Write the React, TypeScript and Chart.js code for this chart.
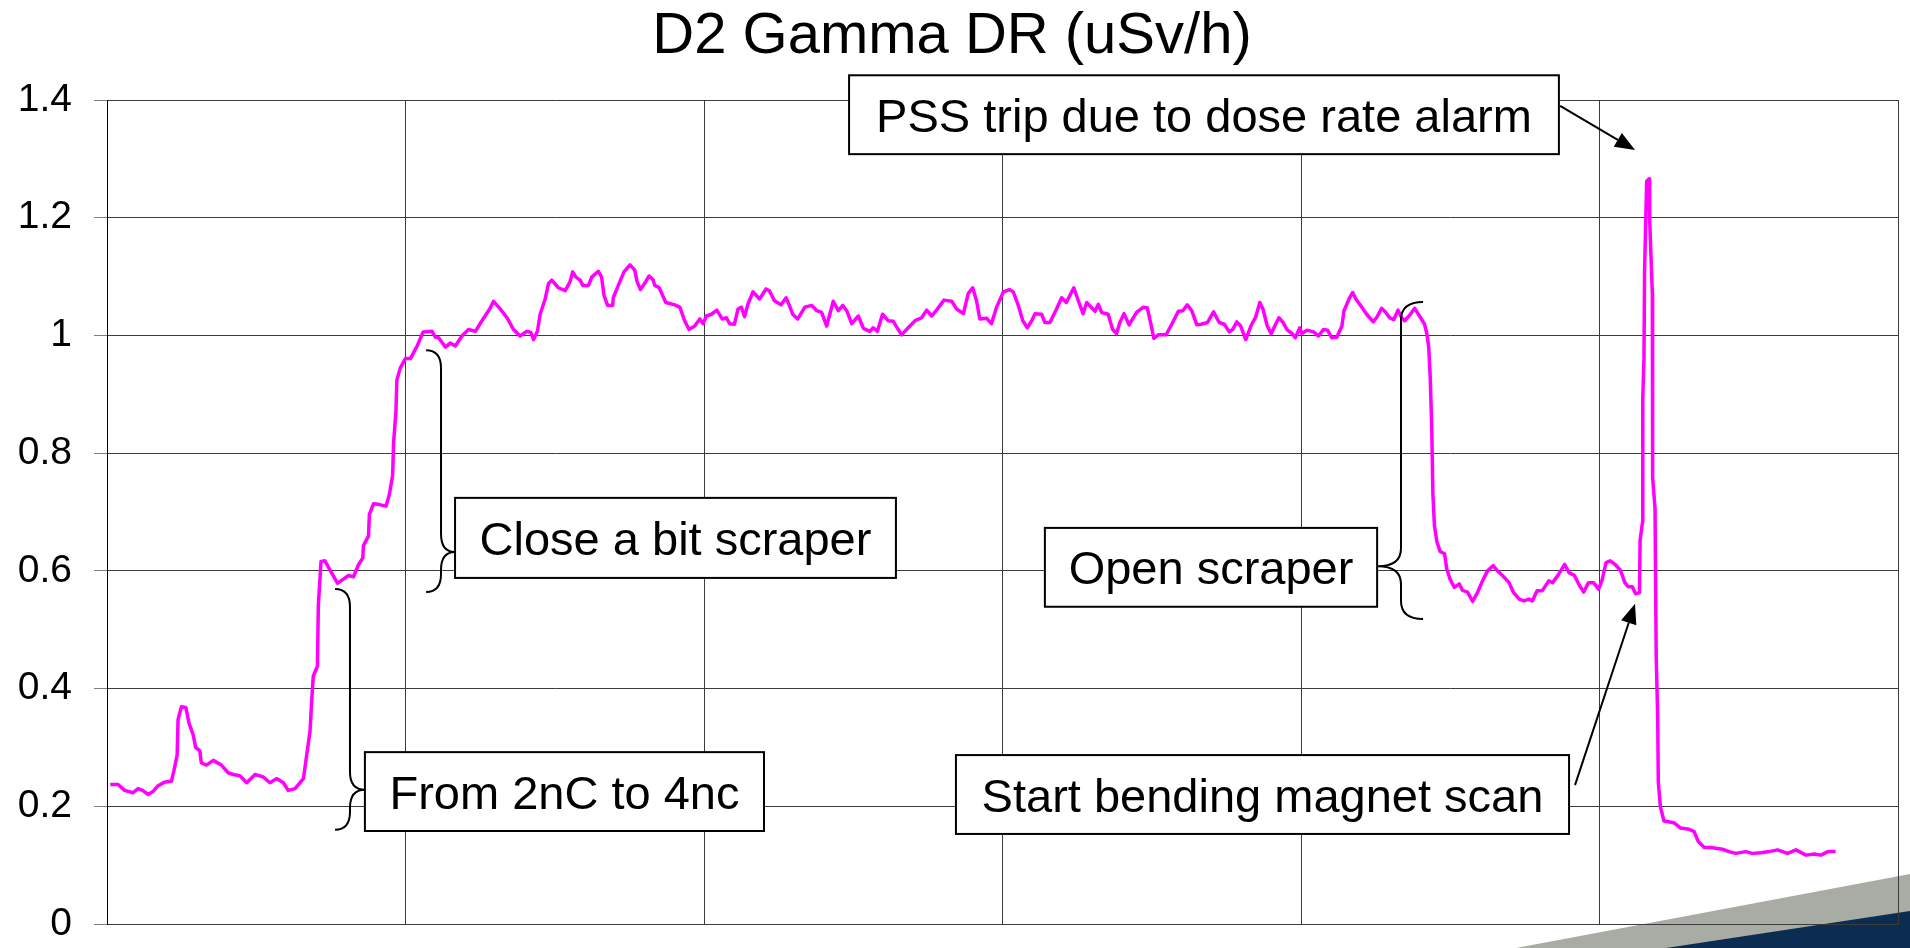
import { useEffect, useRef } from 'react';
import { Chart, registerables } from 'chart.js';

Chart.register(...registerables);

// ---------- data ----------
const chartTitle = 'D2 Gamma DR (uSv/h)';
const yTicks = [0, 0.2, 0.4, 0.6, 0.8, 1, 1.2, 1.4];
const yTickLabels = ['0', '0.2', '0.4', '0.6', '0.8', '1', '1.2', '1.4'];
const xGrid = [0, 1, 2, 3, 4, 5, 6];

// [time (grid units), dose rate uSv/h]
const baselineAndRamp: [number, number][] = [
  [0.011, 0.237], [0.037, 0.237], [0.059, 0.227], [0.087, 0.223], [0.104, 0.230], [0.119, 0.227], [0.138, 0.220], [0.154, 0.225], [0.171, 0.235], [0.193, 0.241],
  [0.216, 0.243], [0.224, 0.260], [0.235, 0.287], [0.238, 0.347], [0.249, 0.369], [0.264, 0.368], [0.275, 0.341], [0.289, 0.321], [0.297, 0.300], [0.311, 0.294],
  [0.316, 0.274], [0.333, 0.270], [0.356, 0.278], [0.383, 0.270], [0.406, 0.257], [0.423, 0.254], [0.445, 0.252], [0.468, 0.240], [0.496, 0.254], [0.523, 0.250],
  [0.546, 0.240], [0.568, 0.247], [0.591, 0.240], [0.607, 0.227], [0.630, 0.230], [0.658, 0.247], [0.669, 0.287], [0.680, 0.327], [0.686, 0.381], [0.691, 0.421],
  [0.705, 0.438], [0.708, 0.542], [0.717, 0.616], [0.730, 0.617], [0.753, 0.596], [0.772, 0.579], [0.792, 0.586], [0.808, 0.592], [0.826, 0.590], [0.842, 0.610],
  [0.857, 0.622], [0.859, 0.643], [0.876, 0.659], [0.879, 0.696], [0.893, 0.714], [0.909, 0.713], [0.935, 0.710], [0.946, 0.730], [0.957, 0.763], [0.960, 0.817],
  [0.968, 0.871], [0.971, 0.924], [0.982, 0.944],
];

const plateauA: [number, number][] = [
  [1.000, 0.961], [1.017, 0.961], [1.039, 0.982], [1.059, 1.006], [1.089, 1.007], [1.100, 0.997], [1.111, 0.996], [1.134, 0.980], [1.150, 0.987], [1.167, 0.982],
  [1.189, 0.999], [1.211, 1.010], [1.234, 1.007], [1.256, 1.025], [1.282, 1.045], [1.295, 1.058], [1.317, 1.045], [1.340, 1.030], [1.362, 1.010], [1.384, 0.999],
  [1.407, 1.007], [1.420, 1.005], [1.429, 0.993], [1.442, 1.007], [1.451, 1.036], [1.468, 1.062], [1.479, 1.088], [1.490, 1.094], [1.512, 1.081], [1.535, 1.076],
  [1.551, 1.091], [1.560, 1.108], [1.571, 1.099], [1.585, 1.094], [1.594, 1.085], [1.613, 1.085], [1.624, 1.099], [1.646, 1.109], [1.657, 1.099], [1.665, 1.068],
  [1.677, 1.051], [1.694, 1.051], [1.696, 1.064], [1.713, 1.085], [1.732, 1.108], [1.752, 1.120], [1.768, 1.111], [1.776, 1.091], [1.787, 1.078], [1.802, 1.089],
  [1.816, 1.101], [1.830, 1.094], [1.835, 1.085], [1.850, 1.081], [1.872, 1.056], [1.902, 1.052], [1.919, 1.048], [1.935, 1.025], [1.950, 1.010], [1.969, 1.016],
  [1.986, 1.028], [1.997, 1.020], [2.008, 1.033], [2.025, 1.036], [2.043, 1.043], [2.061, 1.028], [2.075, 1.030], [2.086, 1.020], [2.102, 1.019], [2.114, 1.045],
  [2.125, 1.048], [2.136, 1.032], [2.147, 1.053], [2.164, 1.074], [2.186, 1.062], [2.208, 1.079], [2.219, 1.076], [2.236, 1.059], [2.258, 1.052], [2.275, 1.064],
  [2.286, 1.051], [2.297, 1.036], [2.314, 1.028],
];

const plateauB: [number, number][] = [
  [2.338, 1.048], [2.361, 1.051], [2.378, 1.042], [2.394, 1.039], [2.411, 1.016], [2.433, 1.058], [2.450, 1.042], [2.465, 1.051], [2.478, 1.042], [2.495, 1.020],
  [2.517, 1.033], [2.534, 1.012], [2.556, 1.007], [2.567, 1.013], [2.581, 1.007], [2.598, 1.036], [2.617, 1.025], [2.634, 1.024], [2.651, 1.010], [2.662, 1.001],
  [2.684, 1.013], [2.707, 1.025], [2.729, 1.030], [2.746, 1.043], [2.763, 1.033], [2.779, 1.043], [2.804, 1.060], [2.830, 1.058], [2.846, 1.045], [2.869, 1.037],
  [2.885, 1.071], [2.900, 1.081], [2.913, 1.059], [2.924, 1.028], [2.947, 1.029], [2.963, 1.020], [2.980, 1.048], [3.003, 1.074], [3.023, 1.078], [3.036, 1.074],
  [3.053, 1.051], [3.068, 1.025], [3.083, 1.013], [3.098, 1.025], [3.109, 1.037], [3.131, 1.036], [3.142, 1.022], [3.159, 1.022], [3.181, 1.045], [3.198, 1.064],
  [3.214, 1.056], [3.226, 1.068], [3.239, 1.081], [3.254, 1.059], [3.270, 1.037], [3.282, 1.056], [3.310, 1.041], [3.321, 1.053], [3.332, 1.039], [3.354, 1.036],
  [3.369, 1.010], [3.382, 1.003], [3.393, 1.022], [3.407, 1.037], [3.424, 1.018], [3.449, 1.039], [3.472, 1.048], [3.485, 1.047], [3.496, 1.022], [3.507, 0.995],
  [3.522, 1.001], [3.548, 1.001], [3.567, 1.019], [3.589, 1.041], [3.604, 1.042], [3.619, 1.052], [3.634, 1.042], [3.651, 1.018],
];

const plateauCAndScraper: [number, number][] = [
  [3.665, 1.019], [3.687, 1.022], [3.707, 1.040], [3.726, 1.022], [3.743, 1.019], [3.760, 1.006], [3.771, 1.010], [3.785, 1.023], [3.798, 1.016], [3.815, 0.993],
  [3.832, 1.016], [3.848, 1.031], [3.862, 1.056], [3.873, 1.044], [3.887, 1.016], [3.900, 1.003], [3.915, 1.019], [3.926, 1.030], [3.940, 1.022], [3.953, 1.010],
  [3.970, 1.003], [3.981, 0.996], [3.996, 1.013], [4.003, 1.003], [4.020, 1.009], [4.042, 1.006], [4.059, 0.999], [4.075, 1.010], [4.089, 1.009], [4.103, 0.996],
  [4.120, 0.997], [4.137, 1.016], [4.144, 1.042], [4.162, 1.063], [4.173, 1.073], [4.184, 1.062], [4.205, 1.047], [4.220, 1.036], [4.242, 1.023], [4.253, 1.030],
  [4.270, 1.046], [4.284, 1.039], [4.297, 1.030], [4.311, 1.027], [4.325, 1.043], [4.336, 1.031], [4.347, 1.025], [4.362, 1.033], [4.381, 1.046], [4.397, 1.033],
  [4.414, 1.019], [4.422, 1.002], [4.428, 0.979], [4.433, 0.928], [4.438, 0.842], [4.442, 0.728], [4.447, 0.677], [4.455, 0.650], [4.466, 0.633], [4.481, 0.629],
  [4.488, 0.604], [4.499, 0.586], [4.514, 0.572], [4.530, 0.578], [4.541, 0.567], [4.558, 0.564], [4.575, 0.548], [4.592, 0.564], [4.608, 0.583], [4.625, 0.600],
  [4.644, 0.609], [4.658, 0.600], [4.675, 0.592], [4.697, 0.580], [4.711, 0.564], [4.731, 0.552], [4.747, 0.549], [4.764, 0.552], [4.775, 0.549], [4.791, 0.566],
  [4.808, 0.566], [4.830, 0.583], [4.843, 0.580], [4.863, 0.594], [4.883, 0.611], [4.898, 0.597], [4.916, 0.592], [4.933, 0.575], [4.947, 0.564], [4.963, 0.580],
  [4.980, 0.580], [4.997, 0.569], [5.008, 0.583], [5.022, 0.614], [5.036, 0.617],
];

const spikeAndTail: [number, number][] = [
  [5.054, 0.610], [5.070, 0.601], [5.085, 0.580], [5.096, 0.573], [5.110, 0.573], [5.121, 0.561], [5.134, 0.563], [5.136, 0.652], [5.144, 0.682], [5.145, 0.893],
  [5.149, 0.961], [5.151, 1.109], [5.158, 1.262], [5.166, 1.266], [5.168, 1.198], [5.177, 1.071], [5.178, 0.758], [5.186, 0.707], [5.190, 0.453], [5.195, 0.351],
  [5.197, 0.241], [5.204, 0.199], [5.216, 0.175], [5.250, 0.172], [5.272, 0.163], [5.300, 0.161], [5.317, 0.157], [5.331, 0.140], [5.351, 0.130], [5.373, 0.130],
  [5.412, 0.127], [5.434, 0.123], [5.457, 0.120], [5.490, 0.123], [5.512, 0.120], [5.541, 0.121], [5.569, 0.123], [5.597, 0.126], [5.630, 0.120], [5.658, 0.126],
  [5.692, 0.117], [5.720, 0.119], [5.742, 0.117], [5.765, 0.123], [5.791, 0.123],
];

// ---------- callouts (positions in data units) ----------
const calloutTexts = [
  'PSS trip due to dose rate alarm',
  'Close a bit scraper',
  'From 2nC to 4nc',
  'Open scraper',
  'Start bending magnet scan',
];

const calloutBoxes = [
  { x0: 2.486, x1: 4.864, y0: 1.442, y1: 1.308 },
  { x0: 1.166, x1: 2.643, y0: 0.724, y1: 0.588 },
  { x0: 0.864, x1: 2.201, y0: 0.292, y1: 0.158 },
  { x0: 3.142, x1: 4.255, y0: 0.673, y1: 0.539 },
  { x0: 2.844, x1: 4.898, y0: 0.287, y1: 0.153 },
];

const braces = [
  { curl: 1.069, spine: 1.119, tipX: 1.166, top: 0.975, tip: 0.632, bottom: 0.564 },
  { curl: 0.764, spine: 0.814, tipX: 0.864, top: 0.569, tip: 0.228, bottom: 0.160 },
  { curl: 4.409, spine: 4.335, tipX: 4.257, top: 1.057, tip: 0.608, bottom: 0.518 },
];

const arrows = [
  { x0: 4.868, y0: 1.390, x1: 5.119, y1: 1.315 },
  { x0: 4.918, y0: 0.236, x1: 5.119, y1: 0.544 },
];

const FONT = '"Liberation Sans", Arial, Helvetica, sans-serif';

const decorationPlugin = {
  id: 'decoration',
  beforeDraw(chart: any) {
    const ctx = chart.ctx;
    const w = chart.width;
    const h = chart.height;
    ctx.save();
    ctx.fillStyle = '#ffffff';
    ctx.fillRect(0, 0, w, h);
    ctx.fillStyle = '#a9aca5';
    ctx.beginPath();
    ctx.moveTo(w - 394, h);
    ctx.lineTo(w, h - 74);
    ctx.lineTo(w, h);
    ctx.closePath();
    ctx.fill();
    ctx.fillStyle = '#0b2d52';
    ctx.beginPath();
    ctx.moveTo(w - 244, h);
    ctx.lineTo(w, h - 37);
    ctx.lineTo(w, h);
    ctx.closePath();
    ctx.fill();
    ctx.restore();
  },
};

const titlePlugin = {
  id: 'customTitle',
  afterDraw(chart: any) {
    const ctx = chart.ctx;
    ctx.save();
    ctx.font = `58px ${FONT}`;
    ctx.fillStyle = '#000';
    ctx.textAlign = 'center';
    ctx.textBaseline = 'alphabetic';
    ctx.fillText(chartTitle, 952, 53);
    ctx.restore();
  },
};

const calloutPlugin = {
  id: 'callouts',
  afterDatasetsDraw(chart: any) {
    const ctx = chart.ctx;
    const xs = chart.scales.x;
    const ys = chart.scales.y;
    const px = (v: number) => xs.getPixelForValue(v);
    const py = (v: number) => ys.getPixelForValue(v);
    ctx.save();
    ctx.strokeStyle = '#000';
    ctx.lineWidth = 2;

    // braces
    const r = 18;
    braces.forEach((b) => {
      const c = px(b.curl), s = px(b.spine), t = px(b.tipX);
      const top = py(b.top), tip = py(b.tip), bot = py(b.bottom);
      ctx.beginPath();
      ctx.moveTo(c, top);
      ctx.quadraticCurveTo(s, top, s, top + r);
      ctx.lineTo(s, tip - r);
      ctx.quadraticCurveTo(s, tip, t, tip);
      ctx.moveTo(t, tip);
      ctx.quadraticCurveTo(s, tip, s, tip + r);
      ctx.lineTo(s, bot - r);
      ctx.quadraticCurveTo(s, bot, c, bot);
      ctx.stroke();
    });

    // arrows
    arrows.forEach((a) => {
      const x0 = px(a.x0), y0 = py(a.y0), x1 = px(a.x1), y1 = py(a.y1);
      const ang = Math.atan2(y1 - y0, x1 - x0);
      const len = 20, half = 8;
      const bx = x1 - len * Math.cos(ang), by = y1 - len * Math.sin(ang);
      ctx.beginPath();
      ctx.moveTo(x0, y0);
      ctx.lineTo(bx, by);
      ctx.stroke();
      ctx.fillStyle = '#000';
      ctx.beginPath();
      ctx.moveTo(x1, y1);
      ctx.lineTo(bx + half * Math.sin(ang), by - half * Math.cos(ang));
      ctx.lineTo(bx - half * Math.sin(ang), by + half * Math.cos(ang));
      ctx.closePath();
      ctx.fill();
    });

    // boxes
    ctx.font = `47px ${FONT}`;
    ctx.textAlign = 'center';
    ctx.textBaseline = 'alphabetic';
    calloutBoxes.forEach((b, i) => {
      const x0 = px(b.x0), x1 = px(b.x1), y0 = py(b.y0), y1 = py(b.y1);
      ctx.fillStyle = '#fff';
      ctx.fillRect(x0, y0, x1 - x0, y1 - y0);
      ctx.strokeRect(x0, y0, x1 - x0, y1 - y0);
      ctx.fillStyle = '#000';
      ctx.fillText(calloutTexts[i], (x0 + x1) / 2, (y0 + y1) / 2 + 17);
    });
    ctx.restore();
  },
};

export default function App() {
  const canvasRef = useRef<HTMLCanvasElement | null>(null);

  useEffect(() => {
    if (!canvasRef.current) return;
    const series = [...baselineAndRamp, ...plateauA, ...plateauB, ...plateauCAndScraper, ...spikeAndTail].map(
      ([x, y]) => ({ x, y })
    );
    const chart = new Chart(canvasRef.current, {
      type: 'line',
      data: {
        datasets: [
          {
            label: chartTitle,
            data: series,
            borderColor: '#ff00ff',
            backgroundColor: '#ff00ff',
            borderWidth: 3.5,
            pointRadius: 0,
            tension: 0,
            borderJoinStyle: 'round',
            fill: false,
          },
        ],
      },
      options: {
        animation: false,
        responsive: false,
        devicePixelRatio: 1,
        layout: { padding: { top: 100, right: 12, bottom: 24, left: 0 } },
        plugins: { legend: { display: false }, title: { display: false }, tooltip: { enabled: false } },
        scales: {
          x: {
            type: 'linear',
            min: 0,
            max: 6,
            afterBuildTicks: (s: any) => {
              s.ticks = xGrid.map((v) => ({ value: v }));
            },
            afterFit: (s: any) => {
              s.height = 0;
              s.paddingLeft = 0;
              s.paddingRight = 0;
              s.paddingTop = 0;
              s.paddingBottom = 0;
            },
            ticks: { display: false },
            grid: { color: '#3c3c3c', lineWidth: 1, drawTicks: false },
            border: { display: true, color: '#3c3c3c', width: 1 },
          },
          y: {
            type: 'linear',
            min: 0,
            max: 1.4,
            afterBuildTicks: (s: any) => {
              s.ticks = yTicks.map((v) => ({ value: v }));
            },
            afterFit: (s: any) => {
              s.width = 107;
              s.paddingTop = 0;
              s.paddingBottom = 0;
            },
            ticks: {
              color: '#000',
              font: { family: FONT, size: 39 },
              padding: 22,
              callback: (_v: any, i: number) => yTickLabels[i],
            },
            grid: { color: '#3c3c3c', lineWidth: 1, tickLength: 13, tickColor: '#808080' },
            border: { display: true, color: '#000', width: 1 },
          },
        },
      },
      plugins: [decorationPlugin, titlePlugin, calloutPlugin],
    });
    return () => chart.destroy();
  }, []);

  return (
    <div style={{ position: 'fixed', left: 0, top: 0, width: 1910, height: 948, background: '#fff' }}>
      <canvas ref={canvasRef} width={1910} height={948} style={{ display: 'block' }} />
    </div>
  );
}
